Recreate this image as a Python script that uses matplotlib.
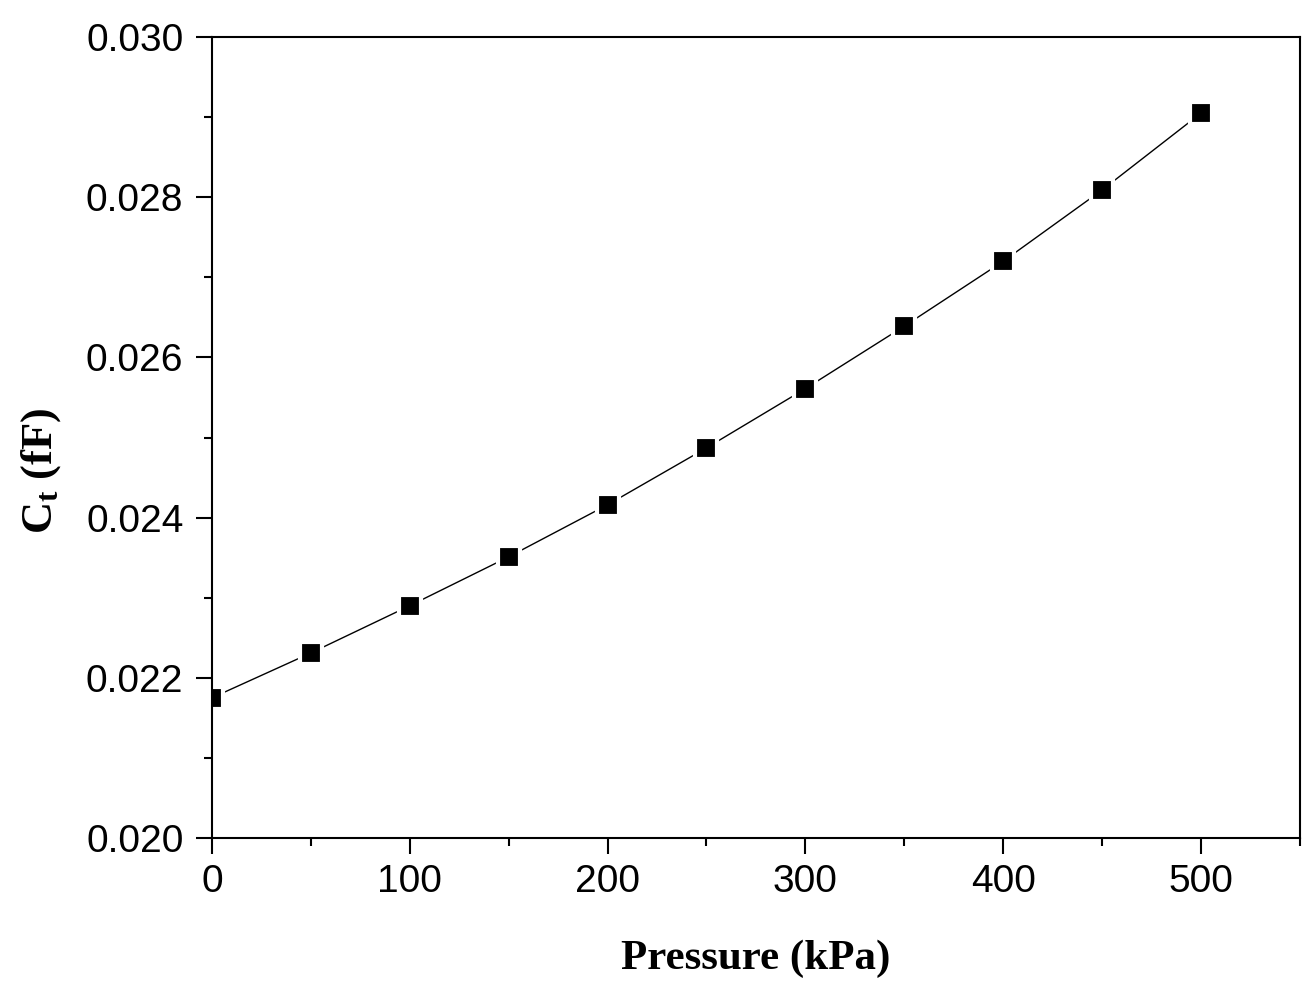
import numpy as np
import matplotlib.pyplot as plt
from matplotlib.ticker import MultipleLocator

pressure = [0, 50, 100, 150, 200, 250, 300, 350, 400, 450, 500]
ct = [0.02175, 0.02231, 0.02290, 0.02351, 0.02416, 0.02487,
      0.02561, 0.02639, 0.02720, 0.02809, 0.02905]

plt.rcParams['mathtext.default'] = 'regular'

fig = plt.figure(figsize=(13.14, 10), dpi=100)
ax = fig.add_axes([0.1613, 0.162, 0.828, 0.801])

# white marker edge leaves the small gap between line and squares
ax.plot(pressure, ct, color='black', lw=1.0, marker='s', ms=15.5,
        mfc='black', mec='white', mew=3)

ax.set_xlim(0, 550)
ax.set_ylim(0.020, 0.030)
ax.xaxis.set_major_locator(MultipleLocator(100))
ax.xaxis.set_minor_locator(MultipleLocator(50))
ax.yaxis.set_major_locator(MultipleLocator(0.002))
ax.yaxis.set_minor_locator(MultipleLocator(0.001))
ax.yaxis.set_major_formatter(plt.FormatStrFormatter('%.3f'))

for s in ax.spines.values():
    s.set_linewidth(1.5)
ax.tick_params(which='both', direction='out', width=1.5, top=False, right=False)
ax.tick_params(which='major', length=11.5, labelsize=28)
ax.tick_params(which='minor', length=6)
ax.tick_params(axis='x', which='major', pad=7)
ax.tick_params(axis='y', which='major', pad=9)
for lab in ax.get_xticklabels() + ax.get_yticklabels():
    lab.set_family('Liberation Sans')

ax.set_xlabel('Pressure (kPa)', family='Liberation Serif', weight='bold',
              fontsize=31, labelpad=29)
ax.set_ylabel(r'C$_{t}$ (fF)', family='Liberation Serif', weight='bold',
              fontsize=32)
ax.yaxis.set_label_coords(-0.137, 0.459)

fig.savefig('out.png')
